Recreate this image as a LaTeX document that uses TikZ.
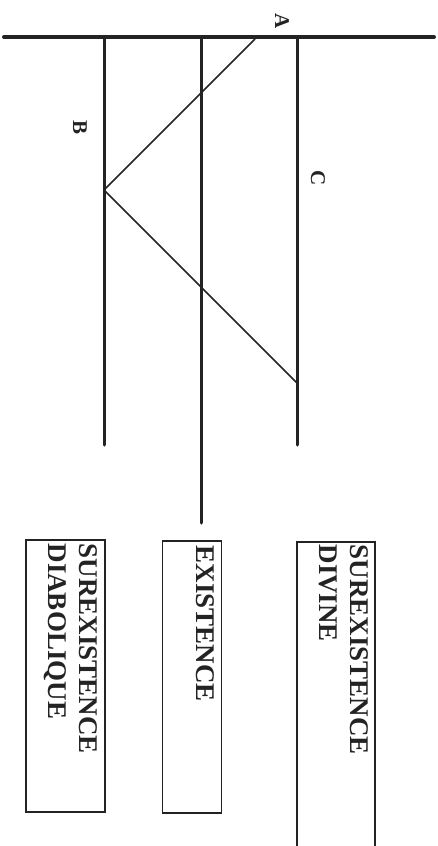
\documentclass[tikz,border=0pt]{standalone}
\usepackage{fontspec}
\setmainfont{Liberation Serif}
\usetikzlibrary{positioning, calc}
\definecolor{ink}{RGB}{35,35,35}

\begin{document}
\begin{tikzpicture}[
    x=1pt, y=-1pt,
    axe/.style={draw=ink, line width=4pt, line cap=round},
    niveau/.style={draw=ink, line width=3pt, line cap=round},
    trajet/.style={draw=ink, line width=1.5pt},
    lettre/.style={font=\bfseries\fontsize{21}{24}\selectfont, text=ink, rotate=-90, inner sep=0pt},
    boite/.style={draw=ink, line width=1.4pt, inner sep=0pt},
    titre/.style={font=\bfseries\fontsize{27}{31}\selectfont, text=ink, rotate=-90,
                  anchor=north west, align=left, inner sep=0pt}
  ]
  \useasboundingbox (0,0) rectangle (438,846);
  % main axis
  \coordinate (g) at (4,37);
  \coordinate (d) at (434,37);
  \draw[axe] (g) -- (d);

  % the three levels
  \coordinate (b0) at (104,37);  \coordinate (b1) at (104,445);
  \coordinate (e0) at (201,37);  \coordinate (e1) at (201,523);
  \coordinate (c0) at (297,37);  \coordinate (c1) at (297,445);
  \draw[niveau] (b0) -- (b1);
  \draw[niveau] (e0) -- (e1);
  \draw[niveau] (c0) -- (c1);

  % path A -> B -> C
  \coordinate (pA) at (255,39);
  \coordinate (pB) at (104,190);
  \coordinate (pC) at (297,383);
  \draw[trajet] (pA) -- (pB) -- (pC);

  \node[lettre] (lA) at (282,21) {A};
  \node[lettre] (lB) at (80,128) {B};
  \node[lettre] (lC) at (318,178) {C};

  % boxes
  \node[boite, minimum width=79pt, minimum height=272pt] (bdiab) at (65.5,676) {};
  \node[boite, minimum width=59pt, minimum height=272pt] (bexist) at (192,677) {};
  \node[boite, minimum width=78pt, minimum height=316pt] (bdiv) at (336,700) {};

  \node[titre] (tdiab) at ([shift={(-8,4)}]bdiab.north east) {SUREXISTENCE\\DIABOLIQUE};
  \node[titre] (texist) at ([shift={(-8,5)}]bexist.north east) {EXISTENCE};
  \node[titre] (tdiv) at ([shift={(-7,3)}]bdiv.north east) {SUREXISTENCE\\DIVINE};
\end{tikzpicture}
\end{document}
